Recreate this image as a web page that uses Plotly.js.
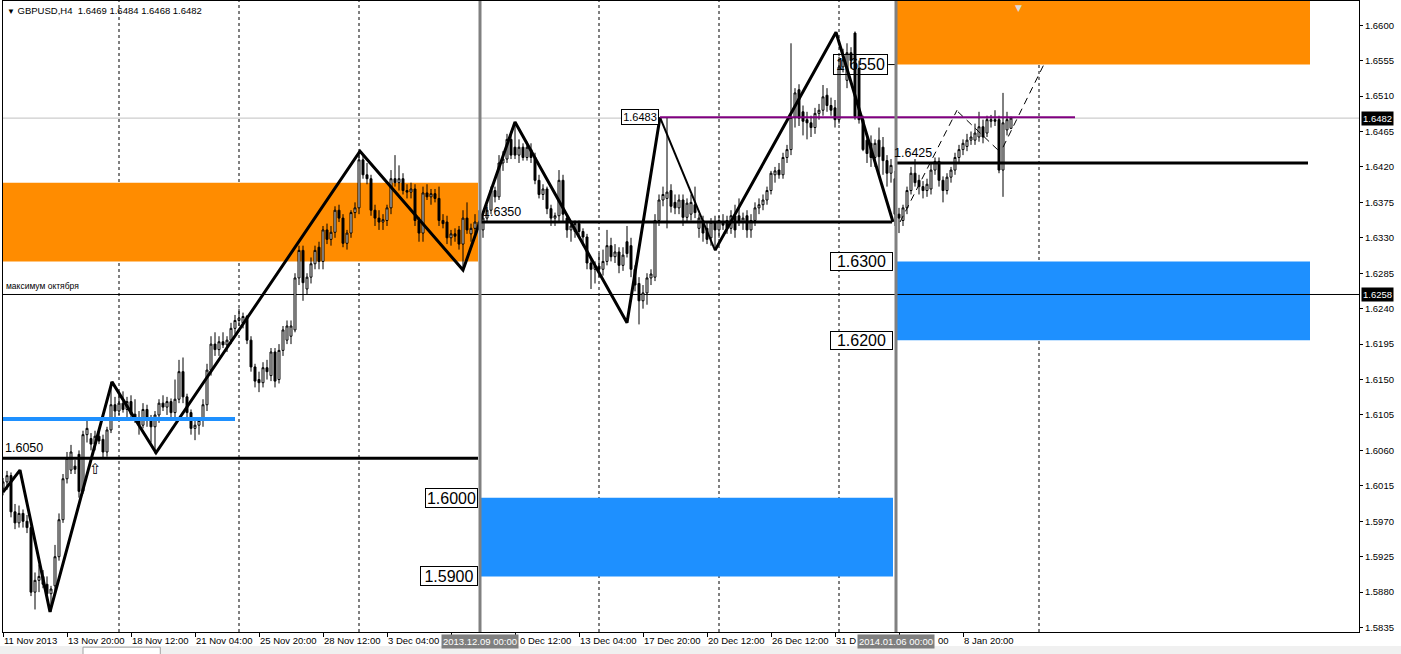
<!DOCTYPE html>
<html><head><meta charset="utf-8">
<script src="https://cdn.plot.ly/plotly-3.0.1.min.js"></script>
<style>html,body{margin:0;padding:0;background:#fff;overflow:hidden}#chart{width:1401px;height:654px}</style>
</head><body><div id="chart"></div>
<script>
const symbolTitle = "GBPUSD,H4  1.6469 1.6484 1.6468 1.6482";

const opens = [
1.6012,1.6020,1.6028,1.5982,1.5968,1.5980,1.5970,1.5962,1.5880,1.5895,
1.5900,1.5890,1.5878,1.5888,1.5925,1.5972,1.6024,1.6035,1.6040,1.6055,
1.6008,1.6080,1.6075,1.6068,1.6078,1.6074,1.6058,1.6086,1.6118,1.6110,
1.6120,1.6112,1.6122,1.6106,1.6100,1.6092,1.6112,1.6100,1.6090,1.6105,
1.6120,1.6115,1.6122,1.6108,1.6125,1.6160,1.6128,1.6108,1.6088,1.6092,
1.6098,1.6118,1.6162,1.6195,1.6188,1.6198,1.6194,1.6200,1.6215,1.6225,
1.6222,1.6230,1.6200,1.6166,1.6150,1.6146,1.6165,1.6155,1.6185,1.6150,
1.6187,1.6200,1.6205,1.6213,1.6279,1.6314,1.6265,1.6280,1.6297,1.6318,
1.6300,1.6340,1.6328,1.6337,1.6365,1.6355,1.6323,1.6336,1.6362,1.6368,
1.6429,1.6410,1.6405,1.6365,1.6355,1.6350,1.6352,1.6368,1.6405,1.6400,
1.6405,1.6390,1.6388,1.6392,1.6352,1.6336,1.6387,1.6382,1.6386,1.6380,
1.6352,1.6350,1.6330,1.6335,1.6340,1.6322,1.6355,1.6335,1.6342,1.6350,
1.6340,1.6355,1.6365,1.6390,1.6382,1.6425,1.6430,1.6455,1.6445,1.6435,
1.6445,1.6432,1.6442,1.6432,1.6403,1.6385,1.6392,1.6367,1.6355,1.6358,
1.6403,1.6355,1.6340,1.6338,1.6348,1.6338,1.6331,1.6298,1.6290,1.6294,
1.6290,1.6300,1.6320,1.6306,1.6312,1.6295,1.6325,1.6320,1.6290,1.6272,
1.6250,1.6260,1.6279,1.6280,1.6352,1.6378,1.6380,1.6390,1.6375,1.6368,
1.6378,1.6356,1.6360,1.6372,1.6342,1.6352,1.6342,1.6330,1.6350,1.6340,
1.6350,1.6352,1.6342,1.6358,1.6358,1.6350,1.6358,1.6340,1.6352,1.6368,
1.6372,1.6378,1.6390,1.6410,1.6416,1.6410,1.6432,1.6442,1.6483,1.6518,
1.6490,1.6480,1.6476,1.6470,1.6488,1.6492,1.6511,1.6498,1.6495,1.6480,
1.6547,1.6530,1.6565,1.6590,1.6545,1.6480,1.6454,1.6450,1.6432,1.6454,
1.6445,1.6428,1.6412,1.6405,1.6360,1.6352,1.6368,1.6390,1.6412,1.6403,
1.6395,1.6390,1.6392,1.6416,1.6427,1.6403,1.6390,1.6407,1.6416,1.6432,
1.6442,1.6446,1.6454,1.6454,1.6458,1.6471,1.6463,1.6478,1.6480,1.6480,
1.6416,1.6467,1.6469];

const highs = [
1.6025,1.6034,1.6032,1.5992,1.5990,1.5985,1.5978,1.5968,1.5905,1.5915,
1.5908,1.5900,1.5888,1.5940,1.5980,1.6030,1.6058,1.6067,1.6048,1.6060,
1.6085,1.6100,1.6082,1.6085,1.6088,1.6080,1.6090,1.6147,1.6128,1.6130,
1.6135,1.6128,1.6130,1.6125,1.6110,1.6120,1.6118,1.6105,1.6110,1.6125,
1.6130,1.6128,1.6126,1.6150,1.6175,1.6178,1.6132,1.6112,1.6098,1.6100,
1.6125,1.6170,1.6205,1.6210,1.6205,1.6210,1.6205,1.6222,1.6232,1.6240,
1.6235,1.6232,1.6205,1.6170,1.6160,1.6172,1.6175,1.6190,1.6190,1.6195,
1.6218,1.6225,1.6225,1.6285,1.6320,1.6320,1.6285,1.6305,1.6320,1.6325,
1.6345,1.6348,1.6345,1.6370,1.6372,1.6360,1.6340,1.6365,1.6375,1.6440,
1.6435,1.6425,1.6410,1.6372,1.6365,1.6360,1.6372,1.6416,1.6435,1.6422,
1.6412,1.6398,1.6400,1.6398,1.6356,1.6395,1.6398,1.6392,1.6392,1.6395,
1.6360,1.6358,1.6340,1.6342,1.6345,1.6365,1.6375,1.6348,1.6360,1.6365,
1.6362,1.6372,1.6395,1.6395,1.6435,1.6440,1.6462,1.6465,1.6477,1.6455,
1.6450,1.6452,1.6450,1.6438,1.6410,1.6398,1.6395,1.6372,1.6362,1.6416,
1.6410,1.6360,1.6350,1.6352,1.6352,1.6342,1.6335,1.6302,1.6300,1.6310,
1.6315,1.6340,1.6330,1.6322,1.6318,1.6318,1.6345,1.6330,1.6295,1.6280,
1.6270,1.6285,1.6290,1.6360,1.6385,1.6395,1.6483,1.6398,1.6385,1.6385,
1.6385,1.6380,1.6385,1.6395,1.6360,1.6358,1.6350,1.6355,1.6358,1.6358,
1.6360,1.6358,1.6365,1.6372,1.6380,1.6362,1.6365,1.6360,1.6375,1.6380,
1.6385,1.6395,1.6415,1.6420,1.6425,1.6438,1.6448,1.6577,1.6520,1.6525,
1.6498,1.6490,1.6485,1.6495,1.6500,1.6524,1.6520,1.6508,1.6505,1.6560,
1.6570,1.6577,1.6572,1.6592,1.6555,1.6485,1.6460,1.6460,1.6455,1.6470,
1.6458,1.6435,1.6430,1.6415,1.6368,1.6372,1.6395,1.6420,1.6430,1.6410,
1.6402,1.6405,1.6425,1.6432,1.6432,1.6408,1.6412,1.6420,1.6438,1.6448,
1.6455,1.6462,1.6465,1.6475,1.6490,1.6480,1.6485,1.6486,1.6492,1.6485,
1.6514,1.6490,1.6484];

const lows = [
1.6003,1.6010,1.5975,1.5960,1.5962,1.5962,1.5955,1.5875,1.5858,1.5880,
1.5885,1.5870,1.5855,1.5880,1.5920,1.5968,1.6018,1.6030,1.6030,1.6000,
1.6005,1.6070,1.6060,1.6060,1.6068,1.6050,1.6052,1.6082,1.6100,1.6105,
1.6108,1.6100,1.6100,1.6095,1.6080,1.6088,1.6090,1.6070,1.6056,1.6095,
1.6110,1.6105,1.6100,1.6100,1.6120,1.6120,1.6100,1.6080,1.6073,1.6080,
1.6090,1.6110,1.6155,1.6180,1.6180,1.6190,1.6185,1.6195,1.6208,1.6218,
1.6215,1.6195,1.6160,1.6140,1.6134,1.6140,1.6150,1.6148,1.6140,1.6145,
1.6180,1.6195,1.6195,1.6210,1.6270,1.6250,1.6258,1.6272,1.6290,1.6290,
1.6290,1.6322,1.6320,1.6330,1.6350,1.6318,1.6315,1.6330,1.6355,1.6360,
1.6405,1.6398,1.6358,1.6345,1.6340,1.6340,1.6345,1.6360,1.6395,1.6390,
1.6385,1.6380,1.6380,1.6345,1.6325,1.6325,1.6378,1.6372,1.6375,1.6345,
1.6342,1.6322,1.6320,1.6325,1.6315,1.6291,1.6335,1.6325,1.6335,1.6340,
1.6330,1.6350,1.6360,1.6375,1.6378,1.6415,1.6425,1.6430,1.6430,1.6425,
1.6428,1.6428,1.6425,1.6398,1.6380,1.6378,1.6360,1.6345,1.6345,1.6350,
1.6350,1.6330,1.6325,1.6330,1.6330,1.6320,1.6290,1.6265,1.6272,1.6280,
1.6282,1.6295,1.6300,1.6298,1.6285,1.6288,1.6305,1.6280,1.6262,1.6220,
1.6240,1.6245,1.6270,1.6275,1.6345,1.6370,1.6342,1.6362,1.6360,1.6360,
1.6345,1.6350,1.6352,1.6355,1.6330,1.6325,1.6322,1.6320,1.6314,1.6330,
1.6340,1.6335,1.6335,1.6330,1.6345,1.6340,1.6330,1.6330,1.6345,1.6360,
1.6365,1.6372,1.6385,1.6400,1.6405,1.6405,1.6425,1.6435,1.6470,1.6472,
1.6460,1.6455,1.6458,1.6462,1.6480,1.6485,1.6490,1.6485,1.6470,1.6475,
1.6540,1.6520,1.6545,1.6480,1.6475,1.6440,1.6425,1.6420,1.6420,1.6410,
1.6410,1.6395,1.6400,1.6345,1.6336,1.6345,1.6360,1.6385,1.6395,1.6385,
1.6380,1.6382,1.6385,1.6410,1.6395,1.6375,1.6385,1.6400,1.6410,1.6425,
1.6435,1.6440,1.6448,1.6448,1.6452,1.6450,1.6458,1.6470,1.6472,1.6412,
1.6382,1.6460,1.6468];

const closes = [
1.6020,1.6028,1.5982,1.5968,1.5980,1.5970,1.5962,1.5880,1.5895,1.5900,
1.5890,1.5878,1.5884,1.5925,1.5972,1.6024,1.6050,1.6058,1.6036,1.6008,
1.6080,1.6088,1.6068,1.6078,1.6072,1.6058,1.6086,1.6118,1.6110,1.6120,
1.6112,1.6122,1.6106,1.6100,1.6092,1.6112,1.6100,1.6090,1.6105,1.6120,
1.6115,1.6122,1.6108,1.6125,1.6160,1.6128,1.6108,1.6088,1.6092,1.6098,
1.6118,1.6162,1.6195,1.6188,1.6198,1.6194,1.6200,1.6215,1.6225,1.6228,
1.6230,1.6200,1.6166,1.6148,1.6146,1.6165,1.6160,1.6185,1.6148,1.6187,
1.6213,1.6218,1.6218,1.6279,1.6314,1.6273,1.6280,1.6297,1.6314,1.6300,
1.6340,1.6328,1.6337,1.6365,1.6355,1.6323,1.6336,1.6362,1.6368,1.6429,
1.6410,1.6405,1.6365,1.6355,1.6350,1.6353,1.6368,1.6405,1.6400,1.6405,
1.6390,1.6388,1.6392,1.6352,1.6336,1.6387,1.6382,1.6386,1.6380,1.6352,
1.6348,1.6330,1.6335,1.6332,1.6322,1.6355,1.6340,1.6342,1.6350,1.6345,
1.6355,1.6365,1.6390,1.6382,1.6425,1.6430,1.6455,1.6435,1.6435,1.6445,
1.6432,1.6445,1.6432,1.6403,1.6385,1.6392,1.6367,1.6355,1.6358,1.6403,
1.6360,1.6340,1.6345,1.6348,1.6338,1.6331,1.6298,1.6290,1.6294,1.6290,
1.6300,1.6320,1.6306,1.6312,1.6295,1.6308,1.6310,1.6290,1.6270,1.6250,
1.6260,1.6279,1.6284,1.6352,1.6378,1.6385,1.6388,1.6370,1.6368,1.6378,
1.6356,1.6374,1.6375,1.6362,1.6355,1.6336,1.6328,1.6350,1.6340,1.6352,
1.6346,1.6342,1.6358,1.6340,1.6350,1.6355,1.6340,1.6352,1.6368,1.6372,
1.6378,1.6390,1.6412,1.6415,1.6410,1.6432,1.6442,1.6483,1.6514,1.6482,
1.6478,1.6476,1.6470,1.6488,1.6492,1.6509,1.6498,1.6492,1.6480,1.6547,
1.6556,1.6565,1.6555,1.6484,1.6480,1.6442,1.6437,1.6432,1.6450,1.6433,
1.6428,1.6412,1.6422,1.6360,1.6355,1.6368,1.6390,1.6412,1.6400,1.6395,
1.6390,1.6398,1.6416,1.6427,1.6403,1.6390,1.6407,1.6416,1.6432,1.6442,
1.6450,1.6454,1.6458,1.6463,1.6471,1.6458,1.6480,1.6480,1.6478,1.6416,
1.6476,1.6480,1.6482];

// time axis: tick bar indexes, and the label text visible in the picture (parts hidden by the date boxes are cut)
const timeTickIdx  = [1,17,33,49,65,81,97,113,129,145,161,177,193,209,225,241];
const timeLabelIdx  = [1,17,33,49,65,81,97,130,145,161,177,193,209,234.5,241];
const timeLabelText = ["11 Nov 2013","13 Nov 20:00","18 Nov 12:00","21 Nov 04:00","25 Nov 20:00","28 Nov 12:00","3 Dec 04:00","0 Dec 12:00","13 Dec 04:00","17 Dec 20:00","20 Dec 12:00","26 Dec 12:00","31 D","00","8 Jan 20:00"];
const priceTicks = [1.5835,1.5880,1.5925,1.5970,1.6015,1.6060,1.6105,1.6150,1.6195,1.6240,1.6285,1.6330,1.6375,1.6420,1.6465,1.6510,1.6555,1.6600];

// week separators (bar index) and marked dates
const weekSepIdx = [30,60,90,150,180,210,260];
const markIdx = [120.25,224.25];
const markText = ["2013.12.09 00:00","2014.01.06 00:00"];

// zigzag swing points
const zigIdxA = [1,5.25,12.75,28.25,39.25,90.25,116,129,157,165.25];
const zigPxA  = [1.6007,1.6035,1.5855,1.6147,1.6057,1.6440,1.6289,1.6477,1.6222,1.6483];
const zigIdxB = [165.25,179];
const zigPxB  = [1.6483,1.6314];
const zigIdxC = [179,209.25,223.5];
const zigPxC  = [1.6314,1.6591,1.6350];
// projection (dashed)
const projIdx = [225.25,239.5,null,239.75,250.25,null,251,261.5];
const projPx  = [1.6350,1.6492,null,1.6490,1.6439,null,1.6445,1.6553];

// levels and zones
const level1605 = 1.6050, level1610 = 1.6100, level1635 = 1.6350, level16425 = 1.6425, level16483 = 1.6483;
const octMax = 1.6258, bid = 1.6482;
const orangeZoneA = [1.6300,1.6400], orangeZoneB = [1.6550,1.6700];
const blueZoneA = [1.5900,1.6000], blueZoneB = [1.6200,1.6300];

const barIdx = closes.map((_, k) => k + 1);
const F = "Liberation Sans, Arial, sans-serif";

const traces = [
  {type:'candlestick', x:barIdx, open:opens, high:highs, low:lows, close:closes,
   increasing:{line:{color:'#000',width:1}, fillcolor:'#ffffff'},
   decreasing:{line:{color:'#000',width:1}, fillcolor:'#000000'},
   whiskerwidth:0, hoverinfo:'skip', showlegend:false},
  {type:'scatter', mode:'lines', x:zigIdxA, y:zigPxA, line:{color:'#000',width:3}, hoverinfo:'skip', showlegend:false},
  {type:'scatter', mode:'lines', x:zigIdxB, y:zigPxB, line:{color:'#000',width:2}, hoverinfo:'skip', showlegend:false},
  {type:'scatter', mode:'lines', x:zigIdxC, y:zigPxC, line:{color:'#000',width:3}, hoverinfo:'skip', showlegend:false},
  {type:'scatter', mode:'lines', x:projIdx, y:projPx, connectgaps:false, line:{color:'#000',width:1,dash:'7px,5px'}, hoverinfo:'skip', showlegend:false}
];

const shapes = [];
function rect(x0,x1,z,color){shapes.push({type:'rect',xref:'x',yref:'y',x0:x0,x1:x1,y0:z[0],y1:z[1],fillcolor:color,line:{width:0},layer:'below'});}
rect(0,119.75,orangeZoneA,'#FF8C00');
rect(224.25,327.75,orangeZoneB,'#FF8C00');
rect(120.25,223.5,blueZoneA,'#1E90FF');
rect(224.25,327.75,blueZoneB,'#1E90FF');
weekSepIdx.forEach(v=>shapes.push({type:'line',xref:'x',yref:'paper',x0:v,x1:v,y0:0,y1:1,line:{color:'#000',width:1,dash:'3px,3px'},layer:'below'}));
function hline(p,x0,x1,color,w,layer){shapes.push({type:'line',xref:'x',yref:'y',x0:x0,x1:x1,y0:p,y1:p,line:{color:color,width:w},layer:layer});}
hline(bid,0,341,'#C0C0C0',1,'below');
hline(octMax,0,341,'#000',1,'below');
hline(level1605,0,119.75,'#000',3,'above');
hline(level1610,1,59,'#1E90FF',4,'above');
hline(level1635,120.25,223.25,'#000',3,'above');
hline(level16425,224.25,327.25,'#000',3,'above');
hline(level16483,165.25,269,'#800080',2,'above');
hline(1.6550,222.3,224.25,'#000',1,'above');
markIdx.forEach(v=>shapes.push({type:'line',xref:'x',yref:'paper',x0:v,x1:v,y0:0,y1:1,line:{color:'#808080',width:3},layer:'above'}));
// bottom strip
shapes.push({type:'rect',xref:'paper',yref:'paper',x0:-0.01,x1:1.04,y0:-0.022,y1:-0.05,fillcolor:'#f0f0f0',line:{width:0}});
shapes.push({type:'rect',xref:'paper',yref:'paper',x0:0.059,x1:0.116,y0:-0.024,y1:-0.05,fillcolor:'#ffffff',line:{color:'#a0a0a0',width:1}});

const ann = [];
timeLabelIdx.forEach((v,k)=>ann.push({x:v,xref:'x',y:0,yref:'paper',yanchor:'top',xanchor:'left',yshift:-1,xshift:-1,showarrow:false,text:timeLabelText[k],font:{family:F,size:9.5,color:'#000'}}));
markIdx.forEach((v,k)=>ann.push({x:v,xref:'x',y:0,yref:'paper',yanchor:'top',xanchor:'center',yshift:-2,showarrow:false,text:markText[k],bgcolor:'#7f7f7f',borderpad:1,font:{family:F,size:9.5,color:'#fff'}}));
function box(x,p,t,size,w,h,bg){ann.push({x:x,xref:'x',y:p,yref:'y',xanchor:'right',yanchor:'middle',showarrow:false,text:t,width:w,height:h,align:'center',valign:'middle',bordercolor:'#000',borderwidth:1,borderpad:1,bgcolor:bg,font:{family:F,size:size,color:'#000'}});}
box(119.75,1.6000,'1.6000',16,49,16,'#fff');
box(119.75,1.5900,'1.5900',16,54,16,'#fff');
box(223.5,1.6300,'1.6300',16,59,15,'#fff');
box(223.5,1.6200,'1.6200',16,59,15,'#fff');
box(222.25,1.6550,'1.6550',16,51,17,'rgba(255,255,255,0)');
box(165.1,1.6483,'1.6483',11,34,12,'#fff');
function txt(x,p,t,size){ann.push({x:x,xref:'x',y:p,yref:'y',xanchor:'left',yanchor:'bottom',yshift:1,showarrow:false,text:t,font:{family:F,size:size,color:'#000'}});}
txt(1.1,level1605,'1.6050',12.5);
txt(120.6,level1635,'1.6350',12.5);
txt(223.3,level16425,'1.6425',12.5);
txt(1.3,octMax,'максимум октября',8.5);
ann.push({x:24,xref:'x',y:1.6037,yref:'y',showarrow:false,text:'⇧',font:{family:'DejaVu Sans',size:15,color:'#000'}});
ann.push({x:254.8,xref:'x',y:1,yref:'paper',yanchor:'top',showarrow:false,text:'▼',font:{family:'DejaVu Sans',size:9,color:'#dcdcdc'}});
ann.push({x:0.0015,xref:'paper',y:1,yref:'paper',xanchor:'left',yanchor:'top',yshift:-2,showarrow:false,text:'<span style="font-size:8px">▼</span> '+symbolTitle,font:{family:F,size:9.5,color:'#000'}});
function axBox(p){ann.push({x:1.0015,xref:'paper',y:p,yref:'y',xanchor:'left',yanchor:'middle',showarrow:false,text:p.toFixed(4),bgcolor:'#000',borderpad:1,font:{family:F,size:9.5,color:'#fff'}});}
axBox(bid); axBox(octMax);

const layout = {
  width:1401, height:654,
  margin:{l:3,r:42,t:1,b:22,pad:0},
  paper_bgcolor:'#fff', plot_bgcolor:'#fff',
  showlegend:false,
  xaxis:{type:'linear', range:[1,340], showgrid:false, zeroline:false, showline:true, linecolor:'#000', linewidth:1, mirror:true,
         ticks:'outside', tickvals:timeTickIdx, ticklen:4, tickcolor:'#000', showticklabels:false, rangeslider:{visible:false}, fixedrange:true, automargin:false},
  yaxis:{side:'right', range:[1.58294,1.66307], showgrid:false, zeroline:false, showline:true, linecolor:'#000', linewidth:1, mirror:true,
         ticks:'outside', ticklen:3, tickcolor:'#000', tickvals:priceTicks, tickformat:'.4f', tickfont:{family:F,size:9.5,color:'#000'}, fixedrange:true, automargin:false},
  shapes:shapes, annotations:ann
};
Plotly.newPlot('chart', traces, layout, {displayModeBar:false, staticPlot:true});
</script>
</body></html>
